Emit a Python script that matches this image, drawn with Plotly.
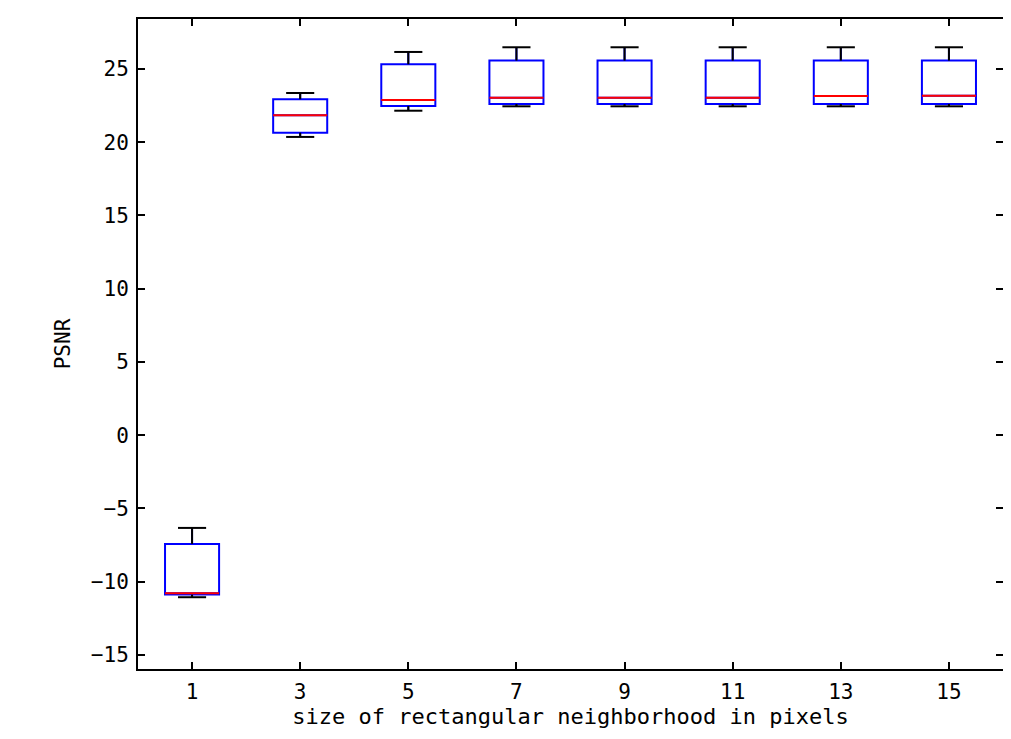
import plotly.graph_objects as go

# Data
neighborhood = ["1", "3", "5", "7", "9", "11", "13", "15"]
positions = [1, 2, 3, 4, 5, 6, 7, 8]
q1 = [-10.88, 20.65, 22.47, 22.61, 22.61, 22.61, 22.61, 22.61]
median = [-10.79, 21.84, 22.88, 23.04, 23.04, 23.04, 23.15, 23.17]
q3 = [-7.42, 22.93, 25.32, 25.57, 25.57, 25.57, 25.57, 25.57]
lower = [-11.06, 20.36, 22.15, 22.45, 22.45, 22.45, 22.45, 22.45]
upper = [-6.33, 23.36, 26.16, 26.48, 26.48, 26.48, 26.48, 26.48]
y_ticks = [-15, -10, -5, 0, 5, 10, 15, 20, 25]

BOX_W = 0.5
CAP_W = 0.26
FONT = "DejaVu Sans Mono"

fig = go.Figure()

fig.add_trace(go.Box(
    x=positions, q1=q1, median=median, q3=q3,
    lowerfence=lower, upperfence=upper,
    width=BOX_W, whiskerwidth=0,
    line=dict(color="#0000ff", width=2),
    fillcolor="rgba(0,0,0,0)",
    boxpoints=False, showlegend=False, hoverinfo="skip",
))

# whiskers (black) drawn over the box trace's own whiskers
wx, wy = [], []
for p, lo, hi, a, b in zip(positions, lower, upper, q1, q3):
    wx += [p, p, None, p - CAP_W / 2, p + CAP_W / 2, None,
           p, p, None, p - CAP_W / 2, p + CAP_W / 2, None]
    wy += [b, hi, None, hi, hi, None,
           a, lo, None, lo, lo, None]
fig.add_trace(go.Scatter(x=wx, y=wy, mode="lines",
                         line=dict(color="black", width=2),
                         showlegend=False, hoverinfo="skip"))

# medians (red)
mx, my = [], []
for p, m in zip(positions, median):
    mx += [p - BOX_W / 2, p + BOX_W / 2, None]
    my += [m, m, None]
fig.add_trace(go.Scatter(x=mx, y=my, mode="lines",
                         line=dict(color="#ff0000", width=2),
                         showlegend=False, hoverinfo="skip"))

axis_common = dict(
    showline=True, linecolor="black", linewidth=2, mirror="ticks",
    ticks="inside", ticklen=7, tickwidth=1.5, tickcolor="black",
    showgrid=False, zeroline=False, automargin=False,
    tickfont=dict(family=FONT, size=21, color="black"),
)

# page body has an 8px default margin: compensate in size/margins
fig.update_layout(
    width=1003, height=731,
    margin=dict(l=130, r=8, t=11, b=70),
    paper_bgcolor="white", plot_bgcolor="white",
    xaxis=dict(range=[0.5, 8.5], tickvals=positions, ticktext=neighborhood,
               ticklabelstandoff=3,
               title=dict(text="size of rectangular neighborhood in pixels",
                          font=dict(family=FONT, size=22, color="black"),
                          standoff=3),
               **axis_common),
    yaxis=dict(range=[-15.96, 28.41], tickvals=y_ticks,
               ticklabelstandoff=3,
               title=dict(text="PSNR",
                          font=dict(family=FONT, size=21, color="black"),
                          standoff=15),
               **axis_common),
)

fig.write_html("out.html")
